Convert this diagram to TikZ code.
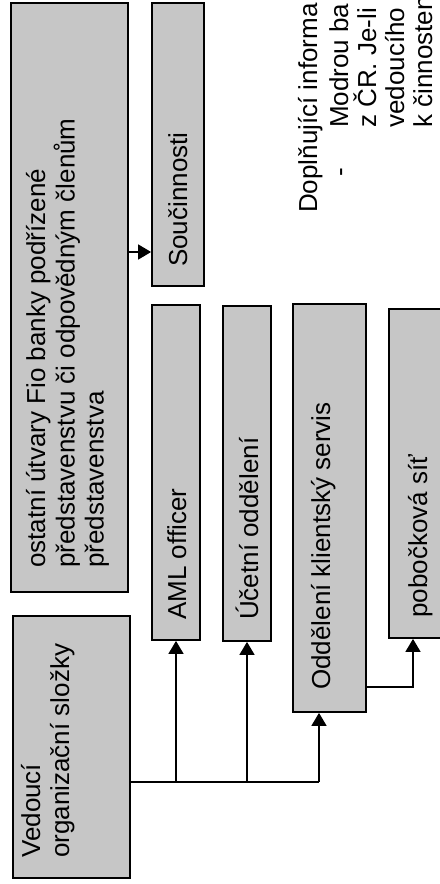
\documentclass[tikz,border=0pt]{standalone}
\usepackage{fontspec}
\setmainfont{Liberation Sans}
\usetikzlibrary{arrows.meta}
\definecolor{boxfill}{RGB}{198,198,198}
\newcommand{\mylines}[1]{\begin{tabular}[t]{@{}l@{}}#1\end{tabular}}
\begin{document}
\begin{tikzpicture}[x=1bp,y=-1bp,
  box/.style={draw=black, line width=1.8bp, fill=boxfill, inner sep=0pt, rectangle},
  lbl/.style={rotate=90, anchor=base west, inner sep=0pt, font=\fontsize{26bp}{29bp}\selectfont},
  conn/.style={line width=1.6bp, draw=black},
  tip/.style={-{Triangle[length=13bp,width=15bp]}}]
\useasboundingbox (0,0) rectangle (440,884);
\clip (0,0) rectangle (440,884);
\fill[white] (0,0) rectangle (440,884);

% boxes
\node[box, minimum width=117bp, minimum height=589bp] (A) at (69.5,297.5) {};
\node[box, minimum width=52bp, minimum height=283bp] (S) at (178,144.5) {};
\node[box, minimum width=48bp, minimum height=335bp] (AML) at (176,472.5) {};
\node[box, minimum width=48bp, minimum height=335bp] (U) at (247,473.5) {};
\node[box, minimum width=73bp, minimum height=408bp] (O) at (329.5,508) {};
\node[box, minimum width=80bp, minimum height=329bp] (P) at (429,473.5) {};
\node[box, minimum width=117bp, minimum height=262bp] (V) at (71.5,747) {};

% labels
\node[lbl] (tA) at (45,568) {\mylines{ostatní útvary Fio banky podřízené\\ představenstvu či odpovědným členům\\ představenstva}};
\node[lbl] (tS) at (187,267) {Součinnosti};
\node[lbl] (tAML) at (186,620) {AML officer};
\node[lbl] (tU) at (258,620) {Účetní oddělení};
\node[lbl] (tO) at (330,690) {Oddělení klientský servis};
\node[lbl] (tP) at (427,618) {pobočková síť};
\node[lbl] (tV) at (40,858) {\mylines{Vedoucí\\ organizační složky}};

% right-hand text
\node[lbl] (n1) at (317,213) {Doplňující informa};
\node[lbl] (n2) at (348,177) {-};
\node[lbl] (n3) at (348,128) {Modrou ba};
\node[lbl] (n4) at (376,128) {z ČR. Je-li};
\node[lbl] (n5) at (404,128) {vedoucího};
\node[lbl] (n6) at (432,128) {k činnosten};

% connectors
\coordinate (m) at (140,252);
\draw[conn,tip] (A.east |- m) -- (S.west |- m);

\coordinate (j) at (319,782);
\draw[conn] (V.east |- j) -- (j);
\draw[conn,tip] (AML.south |- j) -- (AML.south);
\draw[conn,tip] (U.south |- j) -- (U.south);
\draw[conn,tip] (j) -- (O.south -| j);

\coordinate (k) at (413,687);
\draw[conn,tip] (O.east |- k) -- (k) -- (P.south -| k);
\end{tikzpicture}
\end{document}
